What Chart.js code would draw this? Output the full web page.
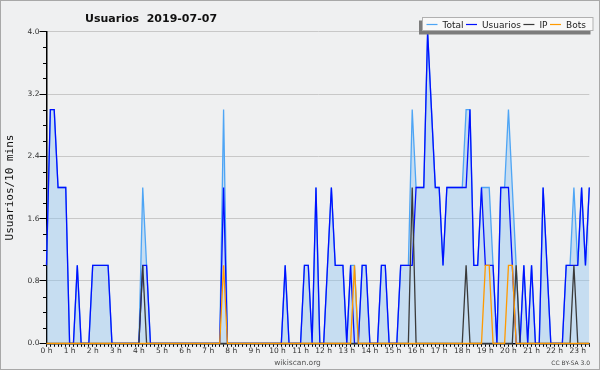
<!DOCTYPE html>
<html>
<head>
<meta charset="utf-8">
<script src="https://cdn.jsdelivr.net/npm/chart.js@4/dist/chart.umd.min.js"></script>
<style>
  html, body { margin: 0; padding: 0; background: #eff0f1; }
  #wrap { width: 600px; height: 370px; }
</style>
</head>
<body>
<div id="wrap"><canvas id="chart" width="600" height="370"></canvas></div>
<script>
// hour tick labels
const hourLabels = ["0 h", "1 h", "2 h", "3 h", "4 h", "5 h", "6 h", "7 h", "8 h", "9 h", "10 h", "11 h",
    "12 h", "13 h", "14 h", "15 h", "16 h", "17 h", "18 h", "19 h", "20 h", "21 h", "22 h", "23 h"];
const yTicks = [0, 0.8, 1.6, 2.4, 3.2, 4.0];
const seriesNames = ["Total", "Usuarios", "IP", "Bots"];

// one value per 10 minutes, 00:00 .. 23:30 (one row per hour)
const total = [
    1, 3, 3, 2, 2, 2,   0, 0, 1, 0, 0, 0,   1, 1, 1, 1, 1, 0,   0, 0, 0, 0, 0, 0,
    0, 2, 1, 0, 0, 0,   0, 0, 0, 0, 0, 0,   0, 0, 0, 0, 0, 0,   0, 0, 0, 0, 3, 0,
    0, 0, 0, 0, 0, 0,   0, 0, 0, 0, 0, 0,   0, 0, 1, 0, 0, 0,   0, 1, 1, 0, 2, 0,
    0, 1, 2, 1, 1, 1,   0, 1, 1, 0, 1, 1,   0, 0, 0, 1, 1, 0,   0, 0, 1, 1, 1, 3,
    2, 2, 2, 4, 3, 2,   2, 1, 2, 2, 2, 2,   2, 3, 3, 1, 1, 2,   2, 2, 1, 0, 2, 2,
    3, 2, 1, 0, 1, 0,   1, 0, 0, 2, 1, 0,   0, 0, 0, 1, 1, 2,   1, 2, 1, 2
];
const usuarios = [
    1, 3, 3, 2, 2, 2,   0, 0, 1, 0, 0, 0,   1, 1, 1, 1, 1, 0,   0, 0, 0, 0, 0, 0,
    0, 1, 1, 0, 0, 0,   0, 0, 0, 0, 0, 0,   0, 0, 0, 0, 0, 0,   0, 0, 0, 0, 2, 0,
    0, 0, 0, 0, 0, 0,   0, 0, 0, 0, 0, 0,   0, 0, 1, 0, 0, 0,   0, 1, 1, 0, 2, 0,
    0, 1, 2, 1, 1, 1,   0, 1, 0, 0, 1, 1,   0, 0, 0, 1, 1, 0,   0, 0, 1, 1, 1, 1,
    2, 2, 2, 4, 3, 2,   2, 1, 2, 2, 2, 2,   2, 2, 3, 1, 1, 2,   1, 1, 1, 0, 2, 2,
    2, 1, 0, 0, 1, 0,   1, 0, 0, 2, 1, 0,   0, 0, 0, 1, 1, 1,   1, 2, 1, 2
];
const ip = [
    0, 0, 0, 0, 0, 0,   0, 0, 0, 0, 0, 0,   0, 0, 0, 0, 0, 0,   0, 0, 0, 0, 0, 0,
    0, 1, 0, 0, 0, 0,   0, 0, 0, 0, 0, 0,   0, 0, 0, 0, 0, 0,   0, 0, 0, 0, 0, 0,
    0, 0, 0, 0, 0, 0,   0, 0, 0, 0, 0, 0,   0, 0, 0, 0, 0, 0,   0, 0, 0, 0, 0, 0,
    0, 0, 0, 0, 0, 0,   0, 0, 0, 0, 0, 0,   0, 0, 0, 0, 0, 0,   0, 0, 0, 0, 0, 2,
    0, 0, 0, 0, 0, 0,   0, 0, 0, 0, 0, 0,   0, 1, 0, 0, 0, 0,   0, 0, 0, 0, 0, 0,
    0, 0, 1, 0, 0, 0,   0, 0, 0, 0, 0, 0,   0, 0, 0, 0, 0, 1,   0, 0, 0, 0
];
const bots = [
    0, 0, 0, 0, 0, 0,   0, 0, 0, 0, 0, 0,   0, 0, 0, 0, 0, 0,   0, 0, 0, 0, 0, 0,
    0, 0, 0, 0, 0, 0,   0, 0, 0, 0, 0, 0,   0, 0, 0, 0, 0, 0,   0, 0, 0, 0, 1, 0,
    0, 0, 0, 0, 0, 0,   0, 0, 0, 0, 0, 0,   0, 0, 0, 0, 0, 0,   0, 0, 0, 0, 0, 0,
    0, 0, 0, 0, 0, 0,   0, 0, 1, 0, 0, 0,   0, 0, 0, 0, 0, 0,   0, 0, 0, 0, 0, 0,
    0, 0, 0, 0, 0, 0,   0, 0, 0, 0, 0, 0,   0, 0, 0, 0, 0, 0,   1, 1, 0, 0, 0, 0,
    1, 1, 0, 0, 0, 0,   0, 0, 0, 0, 0, 0,   0, 0, 0, 0, 0, 0,   0, 0, 0, 0
];

const colors = ["#4ea5f5", "#0010ff", "#3a3a3a", "#ff9a00"];

// 10-minute slot labels for the category axis
const slotLabels = [];
hourLabels.forEach((h, i) => {
    for (let m = 0; m < 60; m += 10) slotLabels.push(i + ":" + String(m).padStart(2, "0"));
});
slotLabels.length = usuarios.length;

const isMajor = v => yTicks.some(t => Math.abs(t - v) < 1e-6);

const decor = {
    id: "decor",
    beforeDraw(chart) {
        const ctx = chart.ctx;
        ctx.save();
        ctx.fillStyle = "#eff0f1";
        ctx.fillRect(0, 0, chart.width, chart.height);
        ctx.restore();
    },
    afterDraw(chart) {
        const ctx = chart.ctx;
        const ys = chart.scales.y;
        const left = chart.chartArea.left;
        ctx.save();

        // minor ticks on the y axis
        ctx.strokeStyle = "#000";
        ctx.lineWidth = 1;
        ys.ticks.forEach(t => {
            if (isMajor(t.value)) return;
            const py = Math.round(ys.getPixelForValue(t.value)) + 0.5;
            ctx.beginPath();
            ctx.moveTo(left - 3.5, py);
            ctx.lineTo(left, py);
            ctx.stroke();
        });

        // title
        ctx.fillStyle = "#111";
        ctx.font = "bold 11px 'DejaVu Sans'";
        ctx.textBaseline = "alphabetic";
        ctx.textAlign = "left";
        ctx.fillText("Usuarios  2019-07-07", 85, 21.5);

        // legend box with shadow
        ctx.fillStyle = "#7c7c7c";
        ctx.fillRect(419, 20.5, 171.5, 14);
        ctx.fillStyle = "#f8f8f8";
        ctx.fillRect(422, 17, 171.5, 14);
        ctx.strokeStyle = "#b0b0b0";
        ctx.strokeRect(422.5, 17.5, 170.5, 13);
        ctx.font = "9px 'DejaVu Sans'";
        let x = 426.5;
        chart.data.datasets.forEach(ds => {
            ctx.strokeStyle = ds.borderColor;
            ctx.lineWidth = 1.2;
            ctx.beginPath();
            ctx.moveTo(x, 24.5);
            ctx.lineTo(x + 11, 24.5);
            ctx.stroke();
            ctx.fillStyle = "#222";
            ctx.fillText(ds.label, x + 16, 28);
            x += 16 + ctx.measureText(ds.label).width + 2.5;
        });

        // footer
        ctx.fillStyle = "#555";
        ctx.font = "7.5px 'DejaVu Sans'";
        ctx.textAlign = "center";
        ctx.fillText("wikiscan.org", 297.5, 365);
        ctx.font = "6px 'DejaVu Sans'";
        ctx.textAlign = "right";
        ctx.fillStyle = "#444";
        ctx.fillText("CC BY-SA 3.0", 590, 365);

        // outer frame
        ctx.strokeStyle = "#a8a8a8";
        ctx.lineWidth = 1;
        ctx.strokeRect(0.5, 0.5, chart.width - 1, chart.height - 1);
        ctx.restore();
    }
};

const seriesData = [total, usuarios, ip, bots];

new Chart(document.getElementById("chart"), {
    type: "line",
    data: {
        labels: slotLabels,
        datasets: seriesData.map((d, i) => ({
            label: seriesNames[i],
            data: d,
            borderColor: colors[i],
            backgroundColor: i === 0 ? "rgba(140, 195, 240, 0.42)" : colors[i],
            fill: i === 0 ? "origin" : false,
            borderWidth: 1.3,
            order: 4 - i,
            clip: false
        }))
    },
    options: {
        responsive: false,
        animation: false,
        layout: {padding: {top: 31.7, right: 10.7, bottom: 0, left: 0}},
        elements: {point: {radius: 0}, line: {tension: 0}},
        plugins: {
            legend: {display: false},
            tooltip: {enabled: false},
            title: {display: false}
        },
        scales: {
            x: {
                type: "category",
                offset: false,
                z: 1,
                grid: {drawOnChartArea: false, tickColor: "#000", tickLength: 3.5},
                border: {color: "#000", width: 1.5},
                ticks: {
                    autoSkip: false,
                    maxRotation: 0,
                    minRotation: 0,
                    padding: 0,
                    color: "#333",
                    font: {family: "DejaVu Sans", size: 7.5},
                    callback: (v, i) => i % 6 === 0 ? hourLabels[i / 6] : ""
                },
                afterFit: s => { s.height = 26.7; }
            },
            y: {
                min: 0,
                max: 4,
                grid: {
                    color: c => isMajor(c.tick.value) ? "#c8c8c8" : "rgba(0,0,0,0)",
                    tickColor: c => isMajor(c.tick.value) ? "#000" : "rgba(0,0,0,0)",
                    tickLength: 7
                },
                border: {color: "#000", width: 1.5},
                ticks: {
                    stepSize: 0.2,
                    padding: 0,
                    color: "#333",
                    font: {family: "DejaVu Sans", size: 7.5},
                    callback: v => isMajor(v) ? v.toFixed(1) : ""
                },
                title: {
                    display: true,
                    text: "Usuarios/10 mins",
                    color: "#111",
                    font: {family: "DejaVu Sans Mono", size: 11},
                    padding: {top: 3.5, bottom: 0}
                },
                afterFit: s => { s.width = 46.5; }
            }
        }
    },
    plugins: [decor]
});
</script>
</body>
</html>
